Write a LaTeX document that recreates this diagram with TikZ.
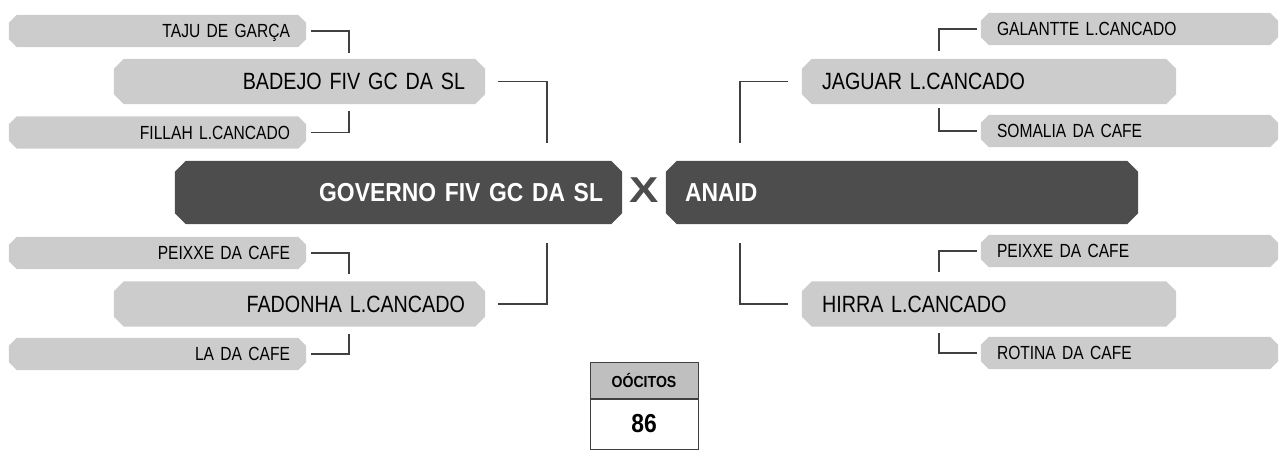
\documentclass[tikz,border=0pt]{standalone}
\usepackage{fontspec}
\setmainfont{Liberation Sans}
\newfontfamily\nar{Liberation Sans}[FakeStretch=0.82,WordSpace=0.8]
\newfontfamily\narm{Liberation Sans}[FakeStretch=0.84,WordSpace=0.75]
\newfontfamily\narb{Liberation Sans}[FakeStretch=0.88,WordSpace=0.85]
\usetikzlibrary{backgrounds}
\definecolor{boxgray}{HTML}{CCCCCC}
\definecolor{darkbox}{HTML}{4D4D4D}
\definecolor{linegray}{HTML}{404040}
\definecolor{headgray}{HTML}{BFBFBF}
\tikzset{
  cbox/.style={rectangle, inner ysep=0pt, text depth=0pt},
  small/.style={cbox, minimum height=32pt, text width=265pt, inner xsep=16pt,
     font=\nar\fontsize{19}{19}\selectfont, text height=13.6pt},
  smallL/.style={small, align=right},
  smallR/.style={small, align=left},
  medium/.style={cbox, minimum height=45pt, inner xsep=20pt,
     font=\narm\fontsize{23.5}{24}\selectfont, text height=16.8pt},
  mediumL/.style={medium, text width=331pt, align=right},
  mediumR/.style={medium, text width=334pt, align=left},
  big/.style={cbox, text=white, minimum height=63pt, inner xsep=19pt,
     font=\narb\bfseries\fontsize{26}{26}\selectfont, text height=18.6pt},
  conn/.style={draw=linegray, line width=1.4pt},
}
\begin{document}
\begin{tikzpicture}[x=1pt,y=-1pt]
\useasboundingbox (0,0) rectangle (1287,455);
% left column
\node[smallL] (t1) at (157.5,31) {TAJU DE GARÇA};
\node[mediumL] (b1) at (299.5,81.5) {BADEJO FIV GC DA SL};
\node[smallL] (t2) at (157.5,132.5) {FILLAH L.CANCADO};
\node[big, text width=409pt, align=right] (g1) at (398.5,192.5) {GOVERNO FIV GC DA SL};
\node[smallL] (t3) at (157.5,253) {PEIXXE DA CAFE};
\node[mediumL] (b2) at (299.5,304) {FADONHA L.CANCADO};
\node[smallL] (t4) at (157.5,354) {LA DA CAFE};
% right column
\node[smallR] (r1) at (1129.5,29) {GALANTTE L.CANCADO};
\node[mediumR] (c1) at (989,81.5) {JAGUAR L.CANCADO};
\node[smallR] (r2) at (1129.5,131) {SOMALIA DA CAFE};
\node[big, text width=434pt, align=left] (g2) at (902,192.5) {ANAID};
\node[smallR] (r3) at (1129.5,251) {PEIXXE DA CAFE};
\node[mediumR] (c2) at (989,304) {HIRRA L.CANCADO};
\node[smallR] (r4) at (1129.5,353) {ROTINA DA CAFE};
% chamfered backgrounds
\begin{scope}[on background layer]
\foreach \n/\c/\f in {t1/8/boxgray,t2/8/boxgray,t3/8/boxgray,t4/8/boxgray,
                      r1/8/boxgray,r2/8/boxgray,r3/8/boxgray,r4/8/boxgray,
                      b1/10/boxgray,b2/10/boxgray,c1/10/boxgray,c2/10/boxgray,
                      g1/11/darkbox,g2/11/darkbox}{
  \fill[\f] ([xshift=\c pt]\n.north west) -- ([xshift=-\c pt]\n.north east)
     -- ([yshift=-\c pt]\n.north east) -- ([yshift=\c pt]\n.south east)
     -- ([xshift=-\c pt]\n.south east) -- ([xshift=\c pt]\n.south west)
     -- ([yshift=\c pt]\n.south west) -- ([yshift=-\c pt]\n.north west) -- cycle;
}
\end{scope}
% versus mark
\node[text=darkbox, font=\bfseries\fontsize{36}{36}\selectfont, inner sep=0pt] (vs) at (644,190.5) {\scalebox{1.22}[1]{X}};
% table
\node[draw=linegray, line width=1pt, fill=headgray, minimum width=108pt, minimum height=36pt, inner sep=0pt,
      font=\narb\bfseries\fontsize{16}{16}\selectfont] (th) at (644,380) {OÓCITOS};
\node[draw=linegray, line width=1pt, fill=white, minimum width=108pt, minimum height=50pt, inner sep=0pt,
      font=\narb\bfseries\fontsize{26}{26}\selectfont, anchor=north] (tv) at (th.south) {86};
% connectors left
\draw[conn] ([xshift=5pt]t1.east) -| ([xshift=49.5pt,yshift=6pt]b1.north);
\draw[conn] ([xshift=5pt]t2.east) -| ([xshift=49.5pt,yshift=-7pt]b1.south);
\draw[conn] ([xshift=13pt]b1.east) -| ([xshift=148.5pt,yshift=18pt]g1.north);
\draw[conn] ([xshift=13pt]b2.east) -| ([xshift=148.5pt,yshift=-19pt]g1.south);
\draw[conn] ([xshift=5pt]t3.east) -| ([xshift=49.5pt,yshift=7pt]b2.north);
\draw[conn] ([xshift=5pt]t4.east) -| ([xshift=49.5pt,yshift=-7pt]b2.south);
% connectors right
\draw[conn] ([xshift=-4pt]r1.west) -| ([xshift=-50pt,yshift=8pt]c1.north);
\draw[conn] ([xshift=-4pt]r2.west) -| ([xshift=-50pt,yshift=-4pt]c1.south);
\draw[conn] ([xshift=-14pt]c1.west) -| ([xshift=-162pt,yshift=18pt]g2.north);
\draw[conn] ([xshift=-14pt]c2.west) -| ([xshift=-162pt,yshift=-19pt]g2.south);
\draw[conn] ([xshift=-4pt]r3.west) -| ([xshift=-50pt,yshift=9pt]c2.north);
\draw[conn] ([xshift=-4pt]r4.west) -| ([xshift=-50pt,yshift=-6pt]c2.south);
\end{tikzpicture}
\end{document}
